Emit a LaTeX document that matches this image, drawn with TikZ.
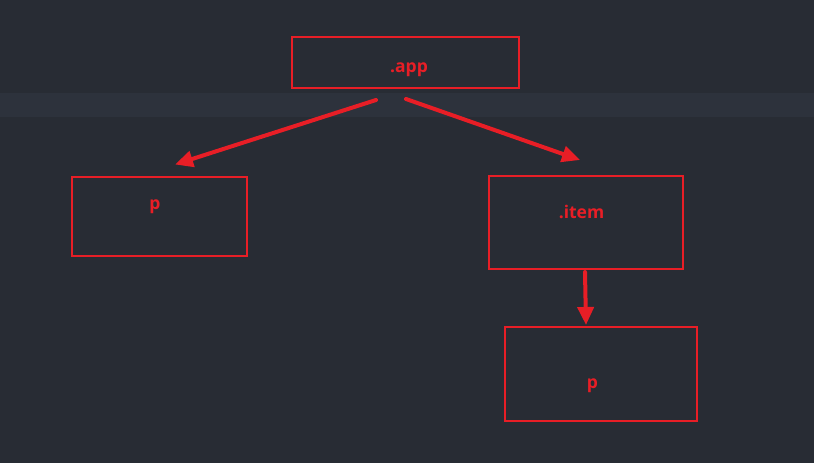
\documentclass[tikz,border=0pt]{standalone}
\usepackage{fontspec}
\setmainfont{Open Sans}[BoldFont={* Bold}]
\usetikzlibrary{arrows.meta}
\definecolor{bgc}{RGB}{40,44,52}
\definecolor{bandc}{RGB}{45,50,60}
\definecolor{redc}{RGB}{232,30,38}
\tikzset{
  box/.style={draw=redc, line width=2pt, inner sep=0pt},
  lbl/.style={text=redc, font=\bfseries\fontsize{17.5}{20}\selectfont, anchor=base, inner sep=0pt},
  arr/.style={draw=redc, line width=4pt, line cap=round, -{Triangle[length=18pt,width=16pt]}}
}
\begin{document}
\begin{tikzpicture}[x=1pt, y=-1pt]
    \useasboundingbox (0,0) rectangle (814,463);
    \fill[bgc] (0,0) rectangle (814,463);
    \fill[bandc] (0,93) rectangle (814,117);
    \node[box, minimum width=227pt, minimum height=51pt] (app) at (405.5,62.5) {};
    \node[box, minimum width=175pt, minimum height=79pt] (p1) at (159.5,216) {};
    \node[box, minimum width=194pt, minimum height=93pt] (item) at (586,222.5) {};
    \node[box, minimum width=192pt, minimum height=94pt] (p2) at (601,374) {};
    \node[lbl] (appt) at (409,72) {.app};
    \node[lbl] (p1t) at (155,209) {p};
    \node[lbl] (itemt) at (581.5,218) {.item};
    \node[lbl] (p2t) at (592.5,388) {p};
    \draw[arr] ([xshift=-29.5pt,yshift=-11pt]app.south) -- ([xshift=15.5pt,yshift=11pt]p1.north);
    \draw[arr] ([xshift=0.5pt,yshift=-10pt]app.south) -- ([xshift=-6pt,yshift=15pt]item.north);
    \draw[arr] ([xshift=-1pt,yshift=-2pt]item.south) -- ([xshift=-15pt,yshift=1pt]p2.north);
\end{tikzpicture}
\end{document}
